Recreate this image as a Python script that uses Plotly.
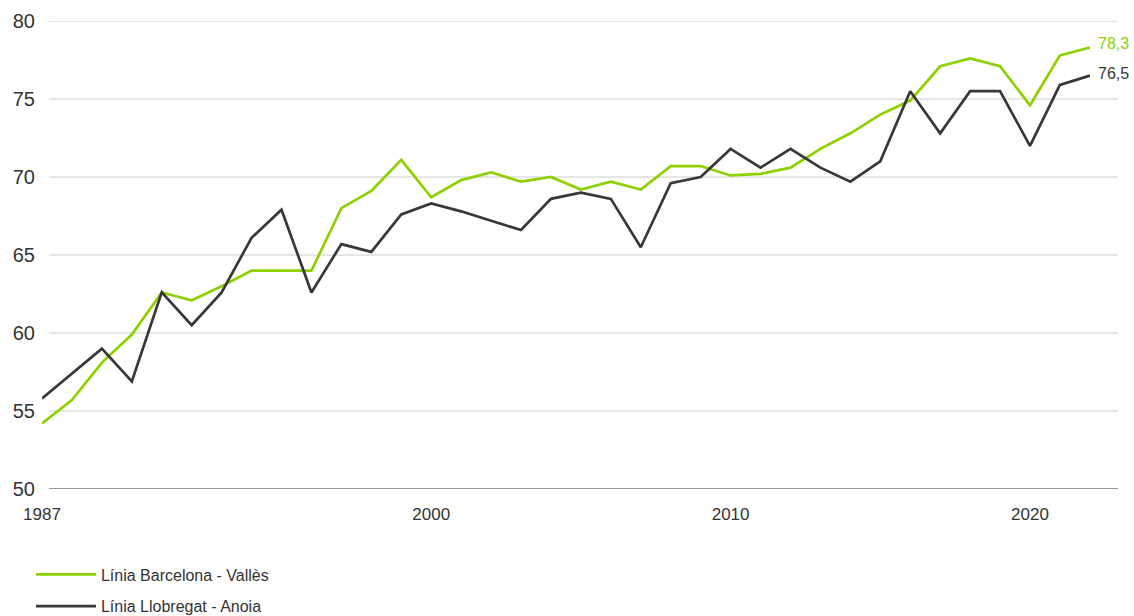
import plotly.graph_objects as go

years = list(range(1987, 2023))
barcelona_valles = [54.2, 55.7, 58.1, 59.9, 62.6, 62.1, 63.0, 64.0, 64.0, 64.0,
                    68.0, 69.1, 71.1, 68.7, 69.8, 70.3, 69.7, 70.0, 69.2, 69.7,
                    69.2, 70.7, 70.7, 70.1, 70.2, 70.6, 71.8, 72.8, 74.0, 74.9,
                    77.1, 77.6, 77.1, 74.6, 77.8, 78.3]
llobregat_anoia = [55.8, 57.4, 59.0, 56.9, 62.6, 60.5, 62.6, 66.1, 67.9, 62.6,
                   65.7, 65.2, 67.6, 68.3, 67.8, 67.2, 66.6, 68.6, 69.0, 68.6,
                   65.5, 69.6, 70.0, 71.8, 70.6, 71.8, 70.6, 69.7, 71.0, 75.5,
                   72.8, 75.5, 75.5, 72.0, 75.9, 76.5]
series_names = ["Línia Barcelona - Vallès", "Línia Llobregat - Anoia"]
y_ticks = [50, 55, 60, 65, 70, 75, 80]
x_ticks = [1987, 2000, 2010, 2020]

GREEN = "#8DD100"
DARK = "#383838"
FONT = "Liberation Sans, Arial, Helvetica, sans-serif"

fig = go.Figure()
fig.add_trace(go.Scatter(x=years, y=barcelona_valles, mode="lines", name=series_names[0],
                         line=dict(color=GREEN, width=2.7), legendgroup="a"))
fig.add_trace(go.Scatter(x=years, y=llobregat_anoia, mode="lines", name=series_names[1],
                         line=dict(color=DARK, width=2.7), legendgroup="b"))

def fmt(v):
    return f"{v:.1f}".replace(".", ",")

fig.add_annotation(x=years[-1], y=barcelona_valles[-1], text=fmt(barcelona_valles[-1]),
                   showarrow=False, xanchor="left", yanchor="middle", xshift=6, yshift=4,
                   font=dict(color=GREEN, size=16, family=FONT))
fig.add_annotation(x=years[-1], y=llobregat_anoia[-1], text=fmt(llobregat_anoia[-1]),
                   showarrow=False, xanchor="left", yanchor="middle", xshift=6, yshift=2,
                   font=dict(color=DARK, size=16, family=FONT))

# horizontal gridlines (start slightly right of plot left edge as in reference)
for t in y_ticks[1:]:
    fig.add_shape(type="line", xref="paper", yref="y", x0=0.0065, x1=1, y0=t, y1=t,
                  line=dict(color="#CCCCCC", width=1), layer="below")
fig.add_shape(type="line", xref="paper", yref="y", x0=0.0065, x1=1, y0=y_ticks[0], y1=y_ticks[0],
              line=dict(color="#333333", width=1.2), layer="above")

fig.update_layout(
    width=1134, height=616,
    margin=dict(l=42, r=16, t=21, b=127, autoexpand=False),
    paper_bgcolor="white", plot_bgcolor="white",
    font=dict(family=FONT, color="#333333"),
    showlegend=True,
    legend=dict(xref="container", yref="container", x=0.0273, y=0.095,
                xanchor="left", yanchor="top", orientation="v",
                font=dict(size=16, color="#333333", family=FONT),
                tracegroupgap=8, itemwidth=60, bgcolor="rgba(0,0,0,0)"),
    xaxis=dict(range=[1987, 2022.94], tickvals=x_ticks, ticktext=[str(v) for v in x_ticks],
               showgrid=False, zeroline=False, showline=False,
               ticks="outside", ticklen=10, tickcolor="rgba(0,0,0,0)",
               tickfont=dict(size=17, color="#333333", family=FONT)),
    yaxis=dict(range=[50, 80], tickvals=y_ticks, showgrid=False, zeroline=False,
               showline=False, ticks="", ticklabelstandoff=6,
               tickfont=dict(size=20, color="#333333", family=FONT)),
)

# remove the default 8px page margin so the figure fills the window exactly
fig.write_html("out.html", config={"displayModeBar": False},
               post_script="document.body.style.margin='0';document.body.style.overflow='hidden';")
